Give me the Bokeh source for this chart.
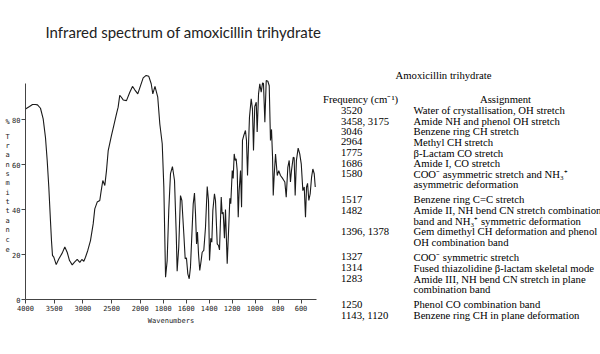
import numpy as np
from bokeh.plotting import figure
from bokeh.models import Range1d, FixedTicker, CustomJSTickFormatter, Label
from bokeh.embed import file_html
from bokeh.resources import INLINE

# ---------------- data ----------------
wavenumber = [4000, 3930, 3878, 3826, 3791, 3739, 3692, 3652, 3622, 3594, 3565, 3547, 3530, 3507,
              3465, 3420, 3361, 3315, 3274, 3233, 3186, 3146, 3099, 3054, 3019, 2984, 2955, 2915,
              2868, 2821, 2793, 2751, 2706, 2681, 2653, 2618, 2589, 2559, 2502, 2462, 2415, 2386,
              2358, 2333, 2298, 2241, 2183, 2136, 2096, 2044, 2000, 1975, 1949, 1926, 1905, 1891,
              1872, 1848, 1830, 1809, 1795, 1780, 1766, 1752, 1737, 1720, 1702, 1687, 1679, 1665,
              1650, 1638, 1621, 1609, 1598, 1586, 1574, 1563, 1548, 1539, 1528, 1519, 1510, 1502,
              1493, 1482, 1470, 1461, 1447, 1432, 1417, 1406, 1397, 1386, 1377, 1368, 1354, 1345,
              1330, 1319, 1310, 1295, 1287, 1278, 1267, 1258, 1243, 1229, 1220, 1212, 1199, 1191,
              1182, 1173, 1165, 1156, 1147, 1139, 1127, 1118, 1110, 1098, 1084, 1075, 1066, 1057,
              1049, 1034, 1023, 1014, 1003, 990, 982, 970, 959, 947, 935, 927, 915, 903, 889, 877,
              866, 857, 848, 842, 833, 822, 807, 794, 779, 759, 741, 729, 715, 703, 692, 683, 668,
              660, 651, 640, 625, 611, 598, 584, 572, 561, 552, 543, 532, 520, 508, 497, 485, 476]
transmittance = [84.7, 85.8, 86.7, 86.7, 86.5, 85.0, 80.3, 72.0, 61.8, 50.0, 35.0, 26.0, 19.6, 18.8,
                 15.5, 18.0, 20.6, 23.3, 21.0, 17.3, 15.4, 16.6, 17.8, 16.5, 17.8, 17.0, 18.8, 21.8,
                 26.2, 33.6, 40.3, 43.3, 44.0, 48.4, 52.9, 50.7, 57.3, 66.2, 72.9, 77.3, 82.5, 85.5,
                 90.7, 90.0, 88.7, 88.4, 92.1, 94.7, 93.2, 91.4, 94.7, 98.5, 99.6, 99.2, 95.9, 91.4,
                 94.7, 89.9, 78.0, 69.2, 50.0, 9.9, 17.3, 39.6, 55.9, 59.1, 52.9, 29.2, 12.6, 23.3,
                 46.2, 44.0, 29.2, 18.1, 18.5, 11.4, 9.2, 14.4, 32.1, 42.5, 47.3, 38.0, 24.7, 30.0,
                 20.3, 12.9, 17.3, 21.0, 21.8, 32.1, 50.2, 44.0, 17.3, 27.2, 25.5, 39.6, 47.0, 44.0,
                 24.7, 24.0, 22.0, 45.5, 38.0, 38.8, 27.2, 40.0, 15.9, 33.0, 45.0, 42.6, 57.3, 53.8,
                 64.7, 61.8, 62.5, 57.3, 36.6, 48.4, 57.3, 41.0, 70.7, 73.0, 75.1, 70.7, 55.1, 69.3,
                 81.0, 89.2, 84.7, 66.2, 85.8, 87.7, 74.4, 91.4, 95.9, 92.1, 96.3, 96.0, 78.8, 97.3,
                 97.0, 95.0, 70.7, 75.6, 63.2, 46.2, 55.9, 64.7, 55.1, 57.3, 55.1, 53.7, 52.2, 45.5,
                 58.7, 61.8, 52.2, 57.3, 63.2, 63.0, 46.2, 61.8, 67.3, 64.7, 60.3, 48.4, 50.0, 36.6,
                 50.0, 51.6, 44.0, 47.0, 54.4, 58.0, 55.9, 50.0]

x_tick_values = [4000, 3500, 3000, 2500, 2000, 1800, 1600, 1400, 1200, 1000, 800, 600]
y_tick_values = [0, 20, 40, 60, 80]

title_text = "Infrared spectrum of amoxicillin trihydrate"
y_axis_letters = ["%", "T", "r", "a", "n", "s", "m", "i", "t", "t", "a", "n", "c", "e"]
x_axis_title = "Wavenumbers"

table_title = "Amoxicillin trihydrate"
table_headers = ["Frequency (cm\u207b\u00b9)", "Assignment"]
frequencies = ["3520", "3458, 3175", "3046", "2964", "1775", "1686", "1580", "1517", "1482",
               "1396, 1378", "1327", "1314", "1283", "1250", "1143, 1120"]
assignments = [
    ["Water of crystallisation, OH stretch"],
    ["Amide NH and phenol OH stretch"],
    ["Benzene ring CH stretch"],
    ["Methyl CH stretch"],
    ["\u03b2-Lactam CO stretch"],
    ["Amide I, CO stretch"],
    ["COO\u207b asymmetric stretch and NH\u2083\u207a", "asymmetric deformation"],
    ["Benzene ring C=C stretch"],
    ["Amide II, NH bend CN stretch combination", "band and NH\u2083\u207a symmetric deformation"],
    ["Gem dimethyl CH deformation and phenol", "OH combination band"],
    ["COO\u207b symmetric stretch"],
    ["Fused thiazolidine \u03b2-lactam skeletal mode"],
    ["Amide III, NH bend CN stretch in plane", "combination band"],
    ["Phenol CO combination band"],
    ["Benzene ring CH in plane deformation"],
]

# ---------------- scale: 500 cm-1 per unit above 2000, 250 cm-1 per unit below ----------------
def to_axis(w):
    w = np.asarray(w, dtype=float)
    return np.where(w >= 2000, (4000.0 - w) / 500.0, 4.0 + (2000.0 - w) / 250.0)

W, H = 600, 354
X0_PX, Y0_PX = 25, 299      # page position of (4000 cm-1, 0 %)
PX_PER_UNIT = 28.7          # 500 cm-1
PX_PER_PCT = 2.25
X_END = 10.14

p = figure(width=W, height=H, output_backend="svg", toolbar_location=None,
           x_range=Range1d(-X0_PX / PX_PER_UNIT, (W - X0_PX) / PX_PER_UNIT),
           y_range=Range1d(-(H - Y0_PX) / PX_PER_PCT, Y0_PX / PX_PER_PCT),
           min_border=0, min_border_left=0, min_border_right=0,
           min_border_top=0, min_border_bottom=0)
p.outline_line_color = None
p.xgrid.visible = False
p.ygrid.visible = False
p.background_fill_color = "white"
p.border_fill_color = "white"

p.line(to_axis(wavenumber), transmittance, line_color="#1a1a1a", line_width=1.1)

axis_font = "DejaVu Sans Mono"
xa = p.xaxis[0]
xa.fixed_location = 0
xa.ticker = FixedTicker(ticks=[float(v) for v in to_axis(x_tick_values)])
xa.formatter = CustomJSTickFormatter(code="""
    const w = tick <= 4 ? 4000 - 500 * tick : 2000 - 250 * (tick - 4);
    return Math.round(w).toString();
""")
xa.bounds = (0, X_END)
xa.axis_label = x_axis_title
xa.axis_label_standoff = 3
xa.axis_label_text_font = axis_font
xa.axis_label_text_font_size = "7px"
xa.axis_label_text_font_style = "normal"
xa.axis_label_text_color = "#222222"

ya = p.yaxis[0]
ya.fixed_location = 0
ya.ticker = FixedTicker(ticks=y_tick_values)
ya.bounds = (0, 96)

for ax in (xa, ya):
    ax.axis_line_color = "#444444"
    ax.major_tick_line_color = "#444444"
    ax.major_tick_in = 0
    ax.major_tick_out = 4
    ax.minor_tick_line_color = None
    ax.major_label_text_font = axis_font
    ax.major_label_text_font_size = "7px"
    ax.major_label_text_color = "#222222"
    ax.major_label_standoff = 1

def put(text, x, y, align="left", font="Liberation Serif", size="10.7px", color="#000000"):
    """x, y: page pixels from top-left."""
    p.add_layout(Label(x=x, y=H - y, x_units="screen", y_units="screen",
                       text=text, text_align=align, text_baseline="middle",
                       text_font=font, text_font_size=size, text_color=color))

# stacked y axis title
letter_tops = [121] + [136 + 9.37 * i for i in range(len(y_axis_letters) - 1)]
for ch, yy in zip(y_axis_letters, letter_tops):
    put(ch, 7, yy, "center", axis_font, "7px", "#222222")

# page title
put(title_text, 45, 31, "left", "Lato", "15px", "#222222")

# ---------------- table ----------------
put(table_title, 443, 74, "center")
put(table_headers[0], 322.5, 98.5)
put(table_headers[1], 505, 98.5, "center")

row_y = [109.5, 120.2, 130.8, 141.4, 152, 162.6, 173.2, 198.5, 209.5, 230.5, 256, 267, 278, 303.5, 314.5]
line_gap = 10.5
for freq, lines, yy in zip(frequencies, assignments, row_y):
    put(freq, 340.5, yy)
    for k, ln in enumerate(lines):
        put(ln, 413, yy + k * line_gap)

open("out.html", "w").write(file_html(p, INLINE))
